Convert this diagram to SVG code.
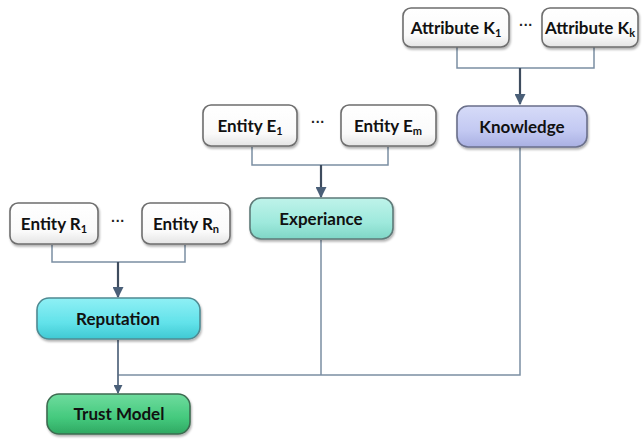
<svg xmlns="http://www.w3.org/2000/svg" width="643" height="439" viewBox="0 0 643 439">
<defs>
<linearGradient id="gw" x1="0" y1="0" x2="0" y2="1"><stop offset="0" stop-color="#ffffff"/><stop offset="0.7" stop-color="#fafafa"/><stop offset="1" stop-color="#e4e4e4"/></linearGradient>
<linearGradient id="gk" x1="0" y1="0" x2="0" y2="1"><stop offset="0" stop-color="#d6dbf8"/><stop offset="0.6" stop-color="#c3c9f2"/><stop offset="1" stop-color="#a9b0e2"/></linearGradient>
<linearGradient id="ge" x1="0" y1="0" x2="0" y2="1"><stop offset="0" stop-color="#bff3ea"/><stop offset="0.6" stop-color="#9ee9dc"/><stop offset="1" stop-color="#7fd6c6"/></linearGradient>
<linearGradient id="gr" x1="0" y1="0" x2="0" y2="1"><stop offset="0" stop-color="#8ff0f5"/><stop offset="0.6" stop-color="#62e2ea"/><stop offset="1" stop-color="#3fc9d3"/></linearGradient>
<linearGradient id="gt" x1="0" y1="0" x2="0" y2="1"><stop offset="0" stop-color="#6fdc9e"/><stop offset="0.6" stop-color="#44c97d"/><stop offset="1" stop-color="#2fa862"/></linearGradient>
<marker id="arr" viewBox="0 0 10 10" refX="9" refY="5" markerWidth="5" markerHeight="5" orient="auto"><path d="M0,0 L10,5 L0,10 z" fill="#4a5f78"/></marker>
<filter id="sh" x="-10%" y="-10%" width="125%" height="140%"><feDropShadow dx="1" dy="2" stdDeviation="1.2" flood-color="#000" flood-opacity="0.3"/></filter>
</defs>
<style>
.b{stroke-width:1.6;filter:url(#sh)}
.w{fill:url(#gw);stroke:#6e6e6e}
.t{font-family:Lato,"Open Sans","Liberation Sans",sans-serif;font-weight:bold;font-size:17px;fill:#111;text-anchor:middle}
.s{font-size:11px}
.c{fill:none;stroke:#7b8ea3;stroke-width:1.5}
.a{fill:none;stroke:#3e4c5e;stroke-width:2.2}
.d{font-family:"Liberation Sans",sans-serif;font-weight:bold;font-size:14px;fill:#222;text-anchor:middle}
</style>
<g id="connectors">
<path class="c" d="M457,47 V68 H594 V47"/>
<path class="a" d="M520,68 V104" marker-end="url(#arr)"/>
<path class="c" d="M252,147 V165 H388 V147"/>
<path class="a" d="M321,165 V197" marker-end="url(#arr)"/>
<path class="c" d="M52,245 V262 H185 V245"/>
<path class="a" d="M118,262 V297" marker-end="url(#arr)"/>
<path class="c" d="M321,240 V375 M520,147 V375 H118"/>
<path class="a" d="M118,340 V393" marker-end="url(#arr)" style="stroke:#5a6d83;stroke-width:1.8"/>
</g>
<g id="attrK1"><rect class="b w" x="403" y="8" width="106" height="39" rx="8"/><text class="t" x="456" y="34">Attribute K<tspan class="s" dy="3">1</tspan></text></g>
<text class="d" x="526" y="30">···</text>
<g id="attrKk"><rect class="b w" x="542" y="8" width="96" height="39" rx="8"/><text class="t" x="590" y="34">Attribute K<tspan class="s" dy="3">k</tspan></text></g>
<g id="knowledge"><rect class="b" x="457" y="106" width="130" height="41" rx="11" fill="url(#gk)" stroke="#6a6f8a"/><text class="t" x="522" y="133">Knowledge</text></g>
<g id="entityE1"><rect class="b w" x="203" y="105" width="94" height="41" rx="8"/><text class="t" x="250" y="132">Entity E<tspan class="s" dy="3">1</tspan></text></g>
<text class="d" x="318" y="127">···</text>
<g id="entityEm"><rect class="b w" x="341" y="105" width="95" height="41" rx="8"/><text class="t" x="388" y="132">Entity E<tspan class="s" dy="3">m</tspan></text></g>
<g id="experiance"><rect class="b" x="250" y="198" width="143" height="41" rx="11" fill="url(#ge)" stroke="#5e7a78"/><text class="t" x="321" y="225">Experiance</text></g>
<g id="entityR1"><rect class="b w" x="10" y="203" width="88" height="41" rx="8"/><text class="t" x="54" y="230">Entity R<tspan class="s" dy="3">1</tspan></text></g>
<text class="d" x="118" y="226">···</text>
<g id="entityRn"><rect class="b w" x="142" y="203" width="88" height="41" rx="8"/><text class="t" x="186" y="230">Entity R<tspan class="s" dy="3">n</tspan></text></g>
<g id="reputation"><rect class="b" x="37" y="298" width="163" height="41" rx="12" fill="url(#gr)" stroke="#4f8a92"/><text class="t" x="118" y="325">Reputation</text></g>
<g id="trustModel"><rect class="b" x="47" y="394" width="143" height="40" rx="12" fill="url(#gt)" stroke="#3d6b50"/><text class="t" x="119" y="420">Trust Model</text></g>
</svg>
